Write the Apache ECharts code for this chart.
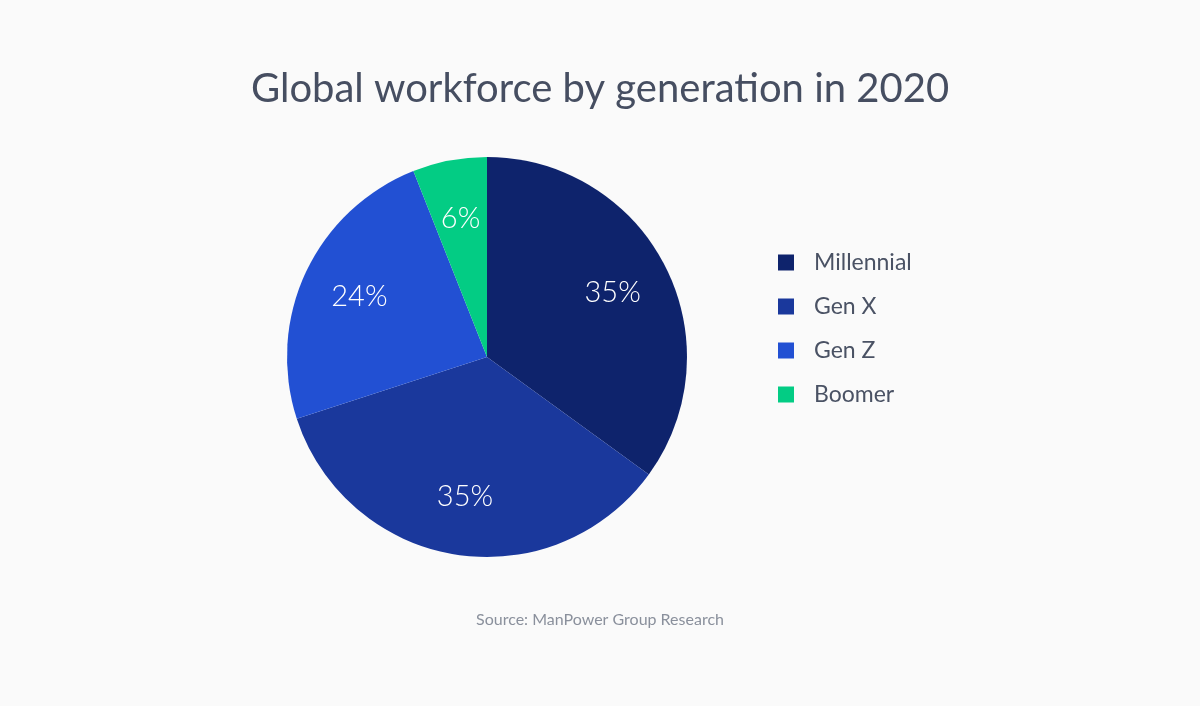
<!DOCTYPE html>
<html>
<head>
<meta charset="utf-8">
<script src="https://cdn.jsdelivr.net/npm/echarts@6/dist/echarts.min.js"></script>
<style>
html,body{margin:0;padding:0;background:#fafafa;}
#main{width:1200px;height:706px;}
</style>
</head>
<body>
<div id="main"></div>
<script>
const categories = ['Millennial', 'Gen X', 'Gen Z', 'Boomer'];
const values = [35, 35, 24, 6];
const colors = ['#0e236c', '#1a389c', '#2250d3', '#03cc84'];
const titleText = 'Global workforce by generation in 2020';
const sourceText = 'Source: ManPower Group Research';

const FONT = 'Lato, "Open Sans", sans-serif';
const data = categories.map((c, i) => ({ name: c, value: values[i], itemStyle: { color: colors[i] } }));
const labelData = categories.map((c, i) => ({ name: c, value: values[i] }));

const chart = echarts.init(document.getElementById('main'));
chart.setOption({
  backgroundColor: '#fafafa',
  animation: false,
  title: [{
    text: titleText,
    left: 'center',
    top: 64,
    textStyle: { fontFamily: FONT, fontSize: 40, fontWeight: 'normal', color: '#464e61' }
  }, {
    text: sourceText,
    left: 'center',
    top: 607,
    textStyle: { fontFamily: FONT, fontSize: 16, fontWeight: 'normal', color: '#8a909c' }
  }],
  legend: {
    orient: 'vertical',
    left: 773,
    top: 246,
    icon: 'rect',
    itemWidth: 16,
    itemHeight: 16,
    itemGap: 21,
    textStyle: { fontFamily: FONT, fontSize: 23, color: '#4a5264', padding: [0, 0, 0, 15] },
    data: categories
  },
  series: [{
    type: 'pie',
    center: [487, 357],
    radius: [0, 200],
    startAngle: 90,
    clockwise: true,
    silent: true,
    label: { show: false },
    labelLine: { show: false },
    data: data
  }, {
    type: 'pie',
    center: [487, 357],
    radius: [76, 200],
    startAngle: 90,
    clockwise: true,
    silent: true,
    legendHoverLink: false,
    itemStyle: { color: 'rgba(0,0,0,0)' },
    label: {
      show: true,
      position: 'inside',
      formatter: '{c}%',
      fontFamily: FONT,
      fontSize: 29,
      fontWeight: 300,
      color: '#ffffff'
    },
    labelLine: { show: false },
    data: labelData
  }]
});
</script>
</body>
</html>
